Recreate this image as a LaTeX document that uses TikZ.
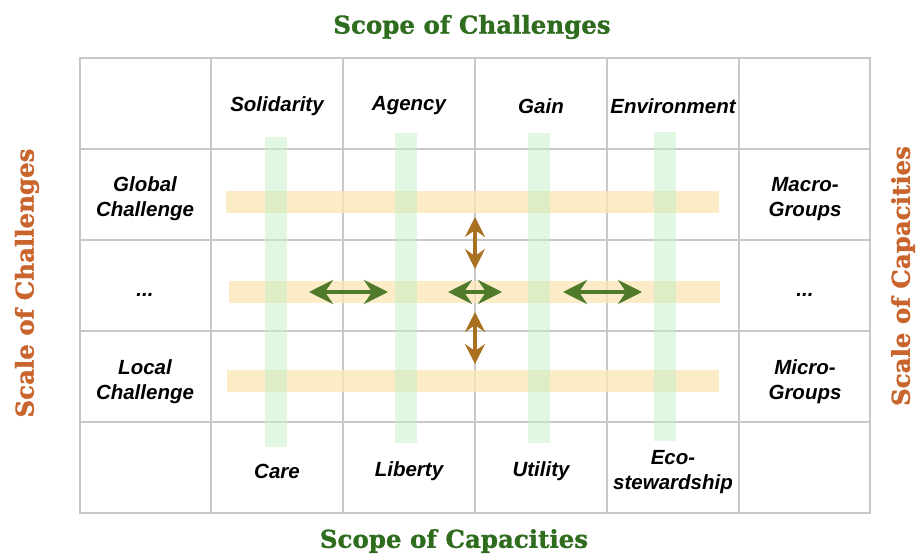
\documentclass[tikz,border=0pt]{standalone}
\usepackage{fontspec}
\usetikzlibrary{arrows.meta}
\newfontfamily\cellfont{Liberation Sans}
\newfontfamily\headfont[BoldFeatures={FakeBold=1.2}]{DejaVu Serif}
\definecolor{gridgray}{RGB}{200,200,200}
\definecolor{bandyellow}{RGB}{250,229,180}
\definecolor{bandgreen}{RGB}{200,240,200}
\definecolor{titlegreen}{RGB}{46,108,30}
\definecolor{titleorange}{RGB}{200,100,44}
\definecolor{arrowgreen}{RGB}{78,122,42}
\definecolor{arrowbrown}{RGB}{168,112,32}

\begin{document}
\begin{tikzpicture}[x=1pt,y=1pt,yscale=-1,
    cell/.style={font=\cellfont\bfseries\itshape\fontsize{20.5}{25}\selectfont,align=center,inner sep=0pt},
    head/.style={font=\headfont\bfseries\fontsize{24.5}{28}\selectfont,inner sep=0pt},
    rowband/.style={fill=bandyellow,opacity=0.75},
    colband/.style={fill=bandgreen,opacity=0.55},
    twoway/.style={line width=4pt,{Stealth[length=24pt,width=24pt,inset=8pt]}-{Stealth[length=24pt,width=24pt,inset=8pt]}},
    updown/.style={line width=4pt,{Stealth[length=20pt,width=20pt,inset=7pt]}-{Stealth[length=20pt,width=20pt,inset=7pt]}}]
\useasboundingbox (0,0) rectangle (917,558);

% grid
\draw [gridgray,line width=1.2pt] (80,58) rectangle (870,513);
\foreach \x in {211,343,475,607,739}
  \draw [gridgray,line width=1.2pt] (\x,58) -- (\x,513);
\foreach \y in {149,240,331,422}
  \draw [gridgray,line width=1.2pt] (80,\y) -- (870,\y);

% scale bands (rows) and scope bands (columns)
\fill [rowband] (226,191) rectangle (719,213);
\fill [rowband] (229,281) rectangle (720,303);
\fill [rowband] (227,370) rectangle (719,392);
\fill [colband] (265,137) rectangle (287,447);
\fill [colband] (395,133) rectangle (417,443);
\fill [colband] (528,133) rectangle (550,443);
\fill [colband] (654,132) rectangle (676,441);

% headings
\node [head,text=titlegreen] (scopech) at (472,27) {Scope of Challenges};
\node [head,text=titlegreen] (scopeca) at (454,541) {Scope of Capacities};
\node [head,text=titleorange,rotate=90] (scalech) at (27,283) {Scale of Challenges};
\node [head,text=titleorange,rotate=90] (scaleca) at (903,276) {Scale of Capacities};

% cell labels
\node [cell] (solid) at (277,106) {Solidarity};
\node [cell] (agency) at (409,106) {Agency};
\node [cell] (gain) at (541,106) {Gain};
\node [cell] (env) at (673,106) {Environment};
\node [cell] (global) at (145,199) {Global\\Challenge};
\node [cell] (macro) at (805,199) {Macro-\\Groups};
\node [cell] (mid1) at (145,295) {...};
\node [cell] (mid2) at (805,295) {...};
\node [cell] (local) at (145,382) {Local\\Challenge};
\node [cell] (micro) at (805,382) {Micro-\\Groups};
\node [cell] (care) at (277,471) {Care};
\node [cell] (liberty) at (409,471) {Liberty};
\node [cell] (utility) at (541,471) {Utility};
\node [cell] (eco) at (673,472) {Eco-\\stewardship};

% arrows
\coordinate (a1) at (309,292);
\coordinate (a2) at (388,292);
\coordinate (b1) at (448,292);
\coordinate (b2) at (502,292);
\coordinate (c1) at (563,292);
\coordinate (c2) at (642,292);
\coordinate (u1) at (475,217);
\coordinate (u2) at (475,269);
\coordinate (d1) at (475,312);
\coordinate (d2) at (475,364);
\draw [twoway,arrowgreen] (a1) -- (a2);
\draw [twoway,arrowgreen] (b1) -- (b2);
\draw [twoway,arrowgreen] (c1) -- (c2);
\draw [updown,arrowbrown] (u1) -- (u2);
\draw [updown,arrowbrown] (d1) -- (d2);
\end{tikzpicture}
\end{document}
